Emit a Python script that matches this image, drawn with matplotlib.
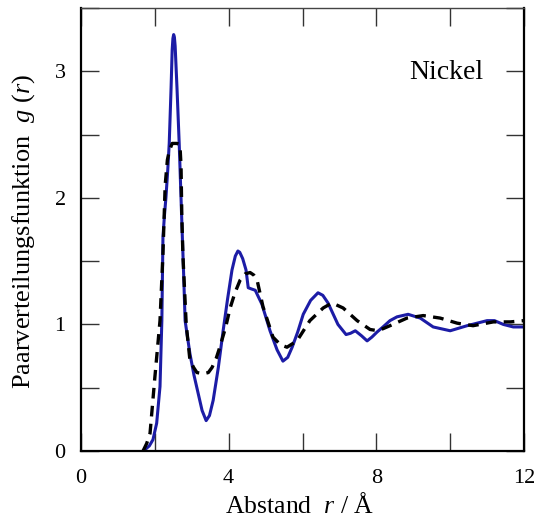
import matplotlib
matplotlib.use("Agg")
import matplotlib.pyplot as plt

# pair distribution function of nickel, solid and dashed curve
r_solid = [1.73, 1.85, 1.95, 2.05, 2.14, 2.19, 2.22, 2.26, 2.30, 2.35, 2.39, 2.44,
           2.47, 2.49, 2.51, 2.53, 2.55, 2.60, 2.66, 2.73, 2.78, 2.82, 2.95, 3.06,
           3.17, 3.28, 3.39, 3.48, 3.58, 3.72, 3.85, 3.97, 4.09, 4.18, 4.25, 4.30,
           4.38, 4.47, 4.53, 4.62, 4.72, 4.90, 5.12, 5.31, 5.47, 5.60, 5.72, 5.87,
           6.02, 6.22, 6.42, 6.55, 6.69, 6.96, 7.18, 7.30, 7.43, 7.60, 7.75, 7.88,
           8.02, 8.18, 8.37, 8.56, 8.86, 9.19, 9.54, 10.0, 10.46, 11.0, 11.20, 11.44,
           11.71, 12.0]
g_solid = [0.01, 0.04, 0.09, 0.22, 0.51, 1.03, 1.69, 1.86, 2.00, 2.22, 2.43, 2.87,
           3.17, 3.26, 3.29, 3.27, 3.20, 2.87, 2.43, 1.82, 1.40, 1.03, 0.77, 0.60,
           0.46, 0.32, 0.24, 0.28, 0.40, 0.66, 0.95, 1.20, 1.43, 1.54, 1.58, 1.57,
           1.52, 1.43, 1.29, 1.28, 1.27, 1.16, 0.95, 0.80, 0.71, 0.74, 0.82, 0.94,
           1.08, 1.19, 1.25, 1.23, 1.17, 1.00, 0.92, 0.93, 0.95, 0.91, 0.87, 0.90,
           0.94, 0.98, 1.03, 1.06, 1.08, 1.05, 0.98, 0.95, 0.99, 1.03, 1.03, 1.00,
           0.98, 0.98]

r_dashed = [1.68, 1.78, 1.87, 2.00, 2.14, 2.22, 2.28, 2.34, 2.39, 2.47, 2.60, 2.68,
            2.71, 2.73, 2.76, 2.85, 2.95, 3.05, 3.14, 3.31, 3.45, 3.55, 3.66, 3.77,
            3.92, 4.04, 4.17, 4.31, 4.45, 4.58, 4.68, 4.77, 4.93, 5.20, 5.40, 5.58,
            5.85, 6.20, 6.56, 6.80, 7.10, 7.48, 7.83, 8.05, 8.37, 8.83, 9.27, 9.73,
            10.19, 10.62, 11.17, 11.63, 12.0]
g_dashed = [0.00, 0.06, 0.14, 0.58, 1.03, 1.56, 2.10, 2.30, 2.37, 2.43, 2.43, 2.42,
            2.25, 1.87, 1.55, 1.00, 0.72, 0.66, 0.62, 0.61, 0.62, 0.66, 0.73, 0.83,
            0.98, 1.13, 1.25, 1.35, 1.40, 1.41, 1.39, 1.35, 1.14, 0.90, 0.84, 0.82,
            0.87, 1.03, 1.13, 1.17, 1.13, 1.03, 0.96, 0.95, 0.99, 1.05, 1.07, 1.05,
            1.01, 0.99, 1.02, 1.02, 1.03]

x_ticks = [0, 2, 4, 6, 8, 10, 12]
x_labels = ["0", "", "4", "", "8", "", "12"]
y_ticks = [0, 0.5, 1, 1.5, 2, 2.5, 3, 3.5]
y_labels = ["0", "", "1", "", "2", "", "3", ""]

plt.rcParams["font.family"] = "Liberation Serif"
plt.rcParams["mathtext.fontset"] = "custom"
plt.rcParams["mathtext.rm"] = "Liberation Serif"
plt.rcParams["mathtext.it"] = "Liberation Serif:italic"

fig = plt.figure(figsize=(5.38, 5.22), dpi=100)
ax = fig.add_axes([81 / 538, 71 / 522, 443 / 538, 443 / 522])

ax.plot(r_solid, g_solid, color="#1c1ca6", lw=2.2, solid_joinstyle="round")
ax.plot(r_dashed, g_dashed, color="black", lw=2.4, dashes=(3.2, 2.2))

ax.set_xlim(0, 12)
ax.set_ylim(0, 3.5)
ax.set_xticks(x_ticks)
ax.set_xticklabels(x_labels)
ax.set_yticks(y_ticks)
ax.set_yticklabels(y_labels)
ax.tick_params(direction="in", length=13, width=1, color="#333333",
               top=True, right=True, labelsize=16)
ax.tick_params(axis="x", pad=13)
ax.tick_params(axis="y", pad=11)
for s in ax.spines.values():
    s.set_linewidth(1.6)
ax.spines["top"].set_linewidth(1.0)
ax.spines["top"].set_color("#444444")

ax.set_xlabel("Abstand  $r$ / Å", fontsize=18.5)
ax.set_ylabel("Paarverteilungsfunktion  $g$ ($r$)", fontsize=19)
ax.xaxis.set_label_coords(0.493, -0.095)
ax.yaxis.set_label_coords(-0.10, 0.4955)
ax.text(10.89, 2.94, "Nickel", fontsize=20, ha="right", va="baseline")

fig.savefig("out.png", dpi=100)
